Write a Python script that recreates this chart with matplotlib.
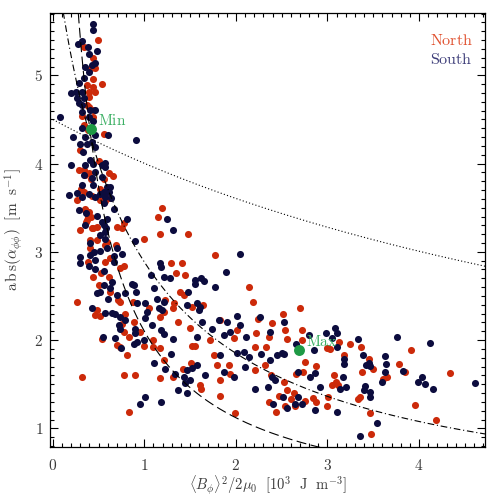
import numpy as np
import matplotlib
matplotlib.use("Agg")
import matplotlib.pyplot as plt
from matplotlib.ticker import MultipleLocator, FuncFormatter

plt.rcParams['mathtext.fontset'] = 'cm'
plt.rcParams['font.family'] = ['DejaVu Serif']

# ---------------- data ----------------
north_x = [0.493,0.336,0.445,0.456,0.42,0.435,0.537,0.373,0.435,0.456,0.391,0.391,0.373,0.391,0.445,0.319,0.435,0.336,0.555,0.384,
           0.30,0.282,0.336,0.391,0.42,0.555,0.609,0.653,0.311,0.264,0.428,0.518,0.573,0.347,0.391,0.384,0.42,0.362,0.30,0.428,0.483,0.70,0.773,0.483,0.573,
           1.192,1.148,1.166,1.476,0.999,0.50,0.52,
           0.355,0.336,0.609,0.355,0.373,0.445,0.755,0.409,0.592,
           0.264,0.319,0.409,0.38,0.439,0.50,0.526,0.609,0.573,0.628,0.483,0.464,0.518,0.537,0.628,0.708,0.729,0.737,0.78,0.693,0.70,0.729,0.81,0.828,0.773,0.755,0.792,0.875,0.882,0.955,0.999,1.046,1.094,1.10,1.166,1.174,1.21,1.228,1.217,1.166,0.828,0.90,0.773,1.312,1.349,1.29,1.41,1.447,1.392,1.436,1.319,1.312,1.373,1.52,1.421,1.509,1.52,1.556,1.50,1.646,1.61,1.621,1.774,1.829,1.72,1.756,1.792,1.829,1.829,1.93,1.938,1.974,1.992,2.011,
           2.138,2.192,2.236,2.222,2.207,2.21,2.331,2.356,2.393,2.32,2.356,2.44,2.382,2.476,2.513,2.538,2.557,2.527,2.557,2.538,2.60,2.629,2.647,2.658,2.70,2.72,2.72,2.738,2.756,2.756,2.84,2.877,2.877,3.0,3.011,2.993,3.03,3.048,3.073,3.095,3.12,3.131,3.18,3.246,3.332,3.35,3.365,3.375,3.448,3.459,3.477,3.50,3.606,3.649,3.786,3.848,3.91,3.957,4.187,4.34]
north_y = [5.40,5.32,5.20,5.08,5.08,4.955,4.90,4.89,4.87,4.81,4.81,4.75,4.66,4.64,4.61,4.54,4.53,4.44,4.33,4.38,
           4.15,3.93,3.93,3.89,3.82,3.82,3.89,3.86,3.71,3.59,3.63,3.59,3.58,3.49,3.45,3.39,3.39,3.34,3.25,3.27,3.28,3.28,3.33,3.13,3.08,
           3.50,3.39,3.20,3.20,3.14,4.03,3.71,
           3.87,3.68,3.61,3.47,3.36,3.27,3.27,3.13,3.11,
           2.43,1.58,3.04,2.89,2.72,2.62,2.76,2.72,2.89,2.93,2.34,2.28,2.27,2.01,2.55,2.45,2.43,2.82,2.84,3.08,1.94,1.92,1.83,2.03,2.09,2.18,2.30,2.43,2.21,2.09,1.93,2.36,2.00,1.92,1.91,2.26,2.32,2.45,1.77,1.57,1.18,1.60,1.60,1.58,2.76,2.87,2.87,2.74,2.55,2.51,2.42,2.36,2.21,2.38,1.67,1.74,1.93,1.93,2.14,2.40,1.49,1.45,2.96,2.23,2.00,1.83,1.72,1.55,1.37,1.72,1.62,2.02,1.17,2.11,
           2.60,2.43,2.24,2.08,1.92,1.66,1.92,2.04,2.19,1.72,1.30,1.18,1.60,1.37,2.30,2.11,2.01,1.53,1.43,1.25,1.33,1.40,1.25,1.62,2.36,2.11,2.00,1.64,1.75,1.31,1.34,1.30,1.71,1.25,1.36,1.91,1.90,1.49,1.60,1.52,1.49,1.98,1.83,1.96,1.33,1.35,1.92,1.64,1.79,1.17,0.94,1.67,1.56,1.58,1.73,1.64,1.89,1.27,1.09,1.63]

south_x = [0.445,0.445,0.319,0.275,0.38,0.483,0.391,0.464,0.428,0.355,0.391,0.336,0.289,0.202,0.253,0.319,0.264,0.282,0.336,0.319,0.464,0.409,0.319,0.082,0.391,0.435,0.319,0.216,0.347,0.464,0.912,0.598,
           0.373,0.30,0.428,0.325,0.464,0.202,0.347,0.409,0.566,0.573,0.336,0.456,0.428,0.537,0.319,0.592,0.609,0.264,0.173,0.391,0.319,0.464,0.555,0.573,0.637,0.555,0.664,0.282,0.362,0.483,0.592,0.81,0.347,0.555,0.58,0.518,0.573,0.409,0.893,1.247,1.312,
           0.445,0.537,0.445,0.518,0.628,0.537,0.573,
           0.30,0.30,0.409,0.453,0.518,0.456,0.391,0.464,0.592,0.70,0.664,0.755,0.664,0.562,0.646,0.555,0.628,0.518,0.483,0.865,0.882,0.912,0.792,0.70,0.598,0.428,0.573,0.646,0.682,0.737,0.792,0.718,0.737,0.744,0.548,0.682,0.90,0.90,0.882,0.919,0.919,1.028,1.01,1.01,1.083,1.072,1.174,1.181,1.21,1.108,1.138,1.155,1.21,1.192,1.181,1.21,0.999,1.312,1.283,1.228,1.108,1.29,1.428,1.465,1.52,1.574,1.50,1.465,1.373,1.447,1.665,1.574,1.574,1.465,1.476,1.592,1.548,1.556,1.621,1.654,1.774,1.61,1.629,1.738,1.81,1.865,1.938,1.902,2.011,2.047,2.011,1.974,1.865,1.829,1.894,1.337,0.948,1.01,1.185,
           2.047,2.265,2.112,2.148,2.09,2.10,2.21,2.273,2.367,2.375,2.345,2.41,2.393,2.429,2.447,2.502,2.527,2.52,2.509,2.557,2.658,2.673,2.683,2.647,2.72,2.793,2.811,2.855,2.865,2.865,2.913,2.986,3.048,3.084,3.103,3.109,3.18,3.18,3.168,3.14,3.197,3.103,3.332,3.387,3.423,3.448,3.466,3.412,3.40,3.459,3.466,3.35,3.539,3.63,3.638,3.63,3.60,3.758,3.83,3.983,4.03,4.066,4.157,4.121,4.612]
south_y = [5.578,5.51,5.39,5.35,5.32,5.28,5.24,5.14,5.12,5.10,5.04,4.97,4.91,4.80,4.81,4.81,4.74,4.69,4.74,4.66,4.61,4.61,4.59,4.53,4.53,4.48,4.40,4.30,4.30,4.32,4.27,4.32,
           4.22,4.22,4.25,4.13,4.19,3.98,3.98,4.04,4.01,3.96,3.87,3.91,3.84,3.85,3.76,3.74,3.68,3.67,3.64,3.66,3.62,3.62,3.68,3.62,3.61,3.55,3.49,3.47,3.44,3.41,3.37,3.37,3.30,3.30,3.27,3.19,3.15,3.10,3.12,3.37,3.25,
           4.00,3.98,3.76,3.66,3.74,3.34,3.23,
           2.94,2.87,2.96,3.00,3.01,2.91,2.84,2.80,3.04,3.04,2.95,2.98,2.88,2.78,2.66,2.62,2.59,2.55,2.53,2.64,2.62,2.55,2.53,2.51,2.47,2.36,2.31,2.31,2.30,2.26,2.23,2.17,2.13,1.91,2.04,2.02,2.12,2.08,1.96,1.98,2.42,2.32,2.25,2.42,2.17,2.74,2.87,2.83,2.72,2.59,2.47,2.36,2.43,2.34,2.11,2.07,2.00,2.01,2.70,1.67,1.74,1.84,1.58,1.66,1.68,1.72,1.55,1.40,1.43,1.51,1.60,2.04,2.42,2.40,2.55,2.34,2.68,2.64,2.70,2.67,2.60,2.38,2.21,2.13,2.23,2.06,2.09,2.21,2.27,2.17,1.85,1.58,1.64,1.83,2.77,1.62,1.28,1.35,1.30,
           2.98,2.26,2.04,1.81,1.87,1.70,1.45,1.84,1.77,2.09,1.47,1.28,1.58,1.55,1.83,1.85,1.84,2.21,1.36,1.23,1.96,1.64,1.36,1.28,1.28,2.06,1.58,1.89,1.63,1.21,1.47,2.08,2.02,2.14,2.08,1.92,1.79,1.73,1.58,1.45,1.47,1.19,2.01,1.83,1.72,1.74,1.71,1.48,1.43,1.41,1.36,0.91,1.06,1.82,1.73,1.64,1.53,2.04,1.65,1.53,1.58,1.50,1.45,1.97,1.51]

extreme_labels = ["Min", "Max"]
extreme_x = [0.417, 2.69]
extreme_y = [4.39, 1.887]

# model curves: y = 1 / (a + b*x)
curve_dotted = (0.2222, 0.0276)
curve_dashdot = (0.1527, 0.1939)
curve_dashed = (0.059, 0.417)

xlim = (-0.03, 4.72)
ylim = (0.785, 5.71)

# ---------------- plotting ----------------
red = '#cc2a0a'
navy = '#0c0c3e'
green = '#1f9a45'
txt = '#3a3a3a'

fig = plt.figure(figsize=(4.98, 4.98), dpi=100)
ax = fig.add_axes([0.1004, 0.1018, 0.8735, 0.8727])

ax.scatter(north_x, north_y, s=26, color=red, linewidths=0, zorder=3)
ax.scatter(south_x, south_y, s=26, color=navy, linewidths=0, zorder=3)

xx = np.linspace(xlim[0], xlim[1], 600)
a, b = curve_dotted
ax.plot(xx, 1.0/(a + b*xx), color='black', lw=0.8, linestyle=(0, (1, 2)), zorder=4)
a, b = curve_dashdot
ax.plot(xx, 1.0/(a + b*xx), color='black', lw=0.8, linestyle=(0, (6, 2.5, 1, 2.5)), zorder=4)
a, b = curve_dashed
xd = xx[(a + b*xx) > 0.05]
ax.plot(xd, 1.0/(a + b*xd), color='black', lw=0.8, linestyle=(0, (9, 4)), zorder=4)

ax.scatter(extreme_x, extreme_y, s=62, color=green, linewidths=0, zorder=5)
for lab, ex, ey in zip(extreme_labels, extreme_x, extreme_y):
    ax.annotate(r'$\mathrm{%s}$' % lab, (ex, ey), xytext=(5, 1), textcoords='offset points',
                color='#3cb064', fontsize=11, va='bottom', ha='left', zorder=6)

ax.text(0.972, 0.937, r'$\mathrm{North}$', transform=ax.transAxes, color='#e0502e',
        fontsize=11.5, ha='right', va='center')
ax.text(0.972, 0.893, r'$\mathrm{South}$', transform=ax.transAxes, color='#3c3c78',
        fontsize=11.5, ha='right', va='center')

ax.set_xlim(*xlim)
ax.set_ylim(*ylim)
ax.xaxis.set_major_locator(MultipleLocator(1))
ax.xaxis.set_minor_locator(MultipleLocator(0.1))
ax.yaxis.set_major_locator(MultipleLocator(1))
ax.yaxis.set_minor_locator(MultipleLocator(0.1))
fmt = FuncFormatter(lambda v, p: r'$%d$' % round(v))
ax.xaxis.set_major_formatter(fmt)
ax.yaxis.set_major_formatter(fmt)
ax.tick_params(which='both', direction='in', top=True, right=True, colors='black',
               labelcolor=txt, labelsize=11, width=0.8)
ax.tick_params(which='major', length=6)
ax.tick_params(which='minor', length=3)
ax.tick_params(axis='x', which='major', pad=8)
ax.tick_params(axis='y', which='major', pad=5)
for sp in ax.spines.values():
    sp.set_linewidth(0.9)

ax.set_xlabel(r'$\langle B_\phi\rangle^2/2\mu_0\ \ [10^3\ \ \mathrm{J}\ \ \mathrm{m}^{-3}]$',
              fontsize=10.5, color=txt, labelpad=0)
ax.set_ylabel(r'$\mathrm{a\,b\,s}(\alpha_{\phi\phi})\ \ [\mathrm{m}\ \ \mathrm{s}^{-1}]$',
              fontsize=11, color=txt, labelpad=6)

fig.savefig('out.png', dpi=100)
